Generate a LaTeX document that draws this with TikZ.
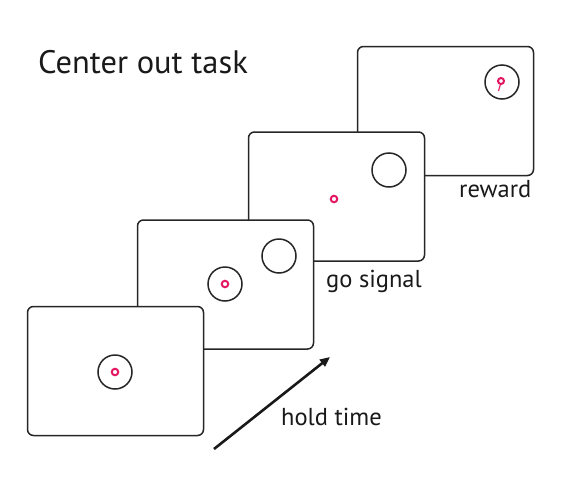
\documentclass[tikz,border=0pt]{standalone}
\usepackage{fontspec}
\setmainfont{PT Sans}
\usetikzlibrary{arrows.meta}
\definecolor{dotred}{RGB}{228,22,98}
\tikzset{
  panel/.style={draw=black!85, line width=1.5pt, rounded corners=6pt, fill=white,
    minimum width=176pt, minimum height=129pt, inner sep=0pt, outer sep=0pt},
  ring/.style={circle, draw=black!85, line width=1.5pt, minimum size=34pt, inner sep=0pt},
  cursor/.style={circle, draw=dotred, fill=white, line width=2pt, minimum size=6.5pt, inner sep=0pt},
  lbl/.style={font=\fontsize{24.5}{28}\selectfont, anchor=base west, inner sep=0pt, text=black!90}
}
\begin{document}
\begin{tikzpicture}[x=1pt,y=-1pt]
\useasboundingbox (0,0) rectangle (565,485);
% panels, back to front
\node[panel] (p4) at (445.5,111) {};
\node[panel] (p3) at (336.5,196.5) {};
\node[panel] (p2) at (225.5,284.5) {};
\node[panel] (p1) at (115.5,371) {};
% panel 1
\node[ring] (c1) at (115,372) {};
\node[cursor] (d1) at (115,372) {};
% panel 2
\node[ring] (c2) at (225,284) {};
\node[cursor] (d2) at (225,284) {};
\node[ring] (t2) at (279,256) {};
% panel 3
\node[cursor] (d3) at (334,199) {};
\node[ring] (t3) at (389,170) {};
% panel 4
\node[ring] (t4) at (502,82) {};
\coordinate (tr) at (498.5,91);
\draw[dotred, line width=1.1pt] (500.5,84) -- (tr);
\node[cursor, minimum size=6pt] (d4) at (501,81) {};
% labels
\node[font=\fontsize{32.5}{38}\selectfont, anchor=base west, inner sep=0pt, text=black!90] (title) at (38,73) {Center out task};
\node[lbl] (go) at (326,287) {go signal};
\node[lbl] (rw) at (459,197) {reward};
\node[lbl] (ht) at (281,425) {hold time};
% time arrow
\coordinate (a0) at (214,449);
\coordinate (a1) at (330,357);
\draw[line width=2.6pt, black!90, -{Triangle[length=10pt,width=8.5pt]}] (a0) -- (a1);
\end{tikzpicture}
\end{document}
